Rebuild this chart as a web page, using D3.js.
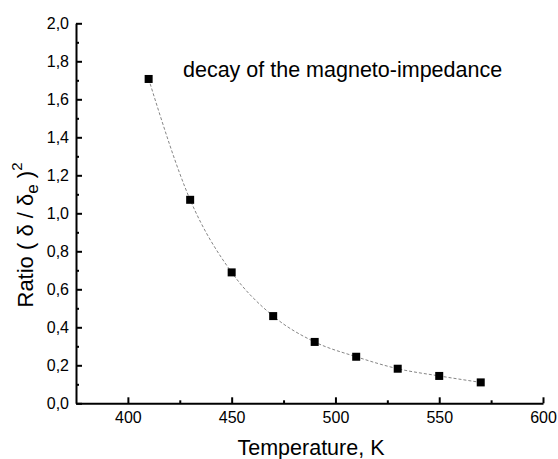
<!DOCTYPE html>
<html>
<head>
<meta charset="utf-8">
<script src="https://cdn.jsdelivr.net/npm/d3@7"></script>
<style>
  body { margin: 0; background: #fff; }
  svg { font-family: Arial, "Liberation Sans", sans-serif; }
</style>
</head>
<body>
<svg id="chart" width="558" height="459"></svg>
<script>
// data
const temperature = [410, 430, 450, 470, 490, 510, 530, 550, 570];
const ratio = [1.707, 1.071, 0.689, 0.459, 0.323, 0.245, 0.182, 0.144, 0.110];
const xTicks = [400, 450, 500, 550, 600];
const xMinor = [425, 475, 525, 575];
const yTicks = [0, 0.2, 0.4, 0.6, 0.8, 1.0, 1.2, 1.4, 1.6, 1.8, 2.0];
const yMinor = [0.1, 0.3, 0.5, 0.7, 0.9, 1.1, 1.3, 1.5, 1.7, 1.9];
const annotation = 'decay of the magneto-impedance';

const svg = d3.select('#chart');

const x = d3.scaleLinear().domain([375, 600]).range([76, 543]);
const y = d3.scaleLinear().domain([0, 2]).range([403.3, 23.3]);

// comma decimal like the original
const fmtY = d => d3.format('.1f')(d).replace('.', ',');

// axes, ticks pointing inward
svg.append('g')
  .attr('transform', `translate(0,${y(0)})`)
  .call(d3.axisBottom(x).tickValues(xTicks).tickSizeInner(-6).tickSizeOuter(0).tickPadding(8).tickFormat(d3.format('d')));
svg.append('g')
  .attr('transform', `translate(0,${y(0)})`)
  .call(d3.axisBottom(x).tickValues(xMinor).tickSizeInner(-3).tickSizeOuter(0).tickFormat(''))
  .select('.domain').remove();

svg.append('g')
  .attr('transform', `translate(${x(375)},0)`)
  .call(d3.axisLeft(y).tickValues(yTicks).tickSizeInner(-6).tickSizeOuter(0).tickPadding(7).tickFormat(fmtY));
svg.append('g')
  .attr('transform', `translate(${x(375)},0)`)
  .call(d3.axisLeft(y).tickValues(yMinor).tickSizeInner(-3).tickSizeOuter(0).tickFormat(''))
  .select('.domain').remove();

svg.selectAll('.domain').attr('stroke-width', 2);
svg.selectAll('.tick line').attr('stroke-width', 2);
svg.selectAll('.tick text').attr('font-size', 16).attr('fill', '#000')
  .style('font-family', 'Arial, "Liberation Sans", sans-serif');

// dashed curve through points
const pts = temperature.map((t, i) => [t, ratio[i]]);
svg.append('path')
  .datum(pts)
  .attr('fill', 'none')
  .attr('stroke', '#666')
  .attr('stroke-width', 0.8)
  .attr('stroke-dasharray', '3,2')
  .attr('d', d3.line().x(d => x(d[0])).y(d => y(d[1])).curve(d3.curveMonotoneX));

// square markers
const s = 8;
svg.append('g').selectAll('rect')
  .data(pts)
  .enter().append('rect')
  .attr('x', d => x(d[0]) - s / 2)
  .attr('y', d => y(d[1]) - s / 2)
  .attr('width', s)
  .attr('height', s)
  .attr('fill', '#000');

// annotation
svg.append('text')
  .attr('x', 183).attr('y', 77)
  .attr('font-size', 21.5)
  .text(annotation);

// x label
svg.append('text')
  .attr('x', 311).attr('y', 455)
  .attr('text-anchor', 'middle')
  .attr('font-size', 21.5)
  .text('Temperature, K');

// y label with sub/superscript
const yl = svg.append('text')
  .attr('transform', 'translate(33,235) rotate(-90)')
  .attr('text-anchor', 'middle')
  .attr('font-size', 22);
yl.append('tspan').text('Ratio ( \u03B4 / \u03B4');
yl.append('tspan').attr('font-size', 17).attr('dy', 5).text('e');
yl.append('tspan').attr('dy', -5).text(' )');
yl.append('tspan').attr('font-size', 15).attr('dy', -11).text('2');
</script>
</body>
</html>
